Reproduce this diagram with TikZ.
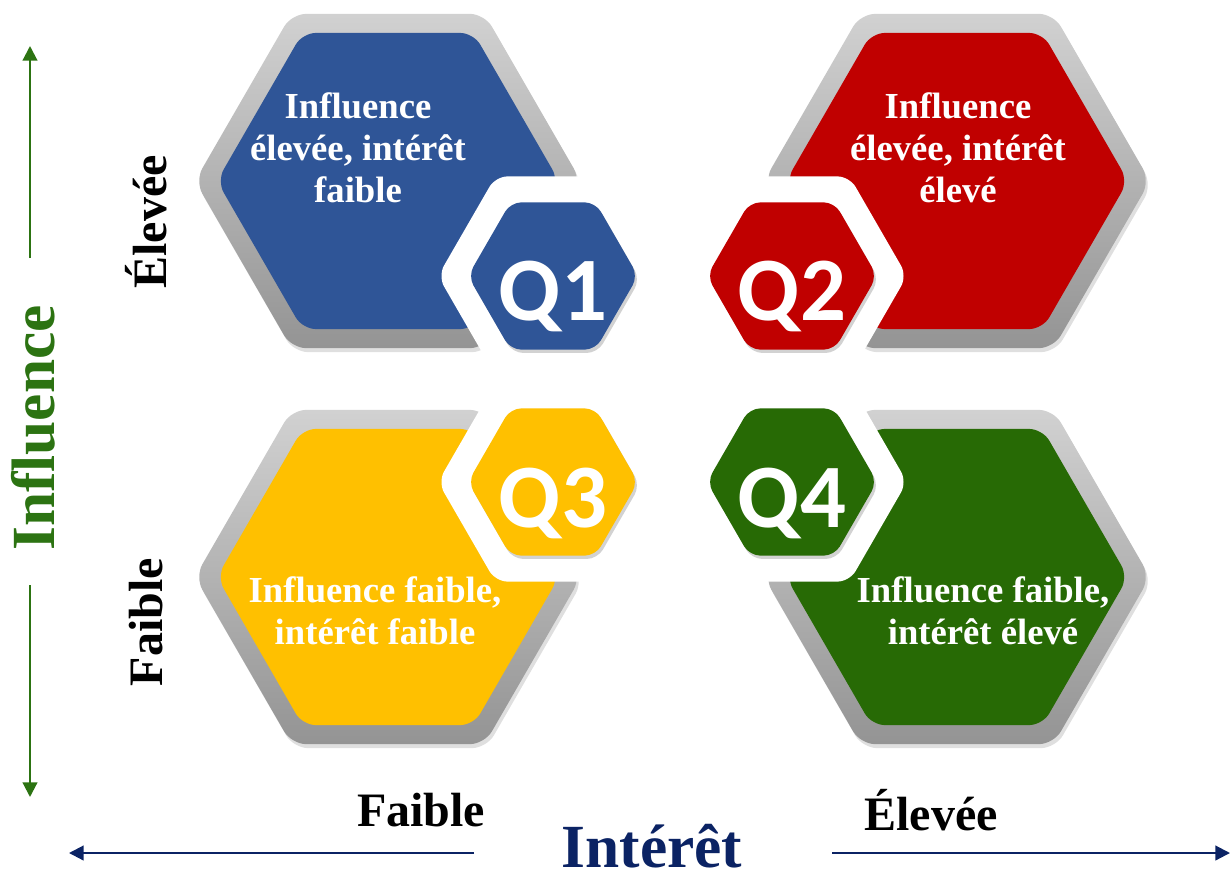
\documentclass[tikz,border=0pt]{standalone}
\usepackage{fontspec}
\setmainfont{Liberation Serif}
\newfontfamily\qfont{Carlito}
\usetikzlibrary{shadows,arrows.meta}
\definecolor{qblue}{HTML}{2F5597}
\definecolor{qred}{HTML}{C00000}
\definecolor{qyellow}{HTML}{FFC000}
\definecolor{qgreen}{HTML}{276A05}
\definecolor{axgreen}{HTML}{2C7312}
\definecolor{axnavy}{HTML}{0B2364}
\newcommand\hexat[3]{({#1+#3},{#2}) -- ({#1+#3/2},{#2+0.866*#3}) -- ({#1-#3/2},{#2+0.866*#3}) -- ({#1-#3},{#2}) -- ({#1-#3/2},{#2-0.866*#3}) -- ({#1+#3/2},{#2-0.866*#3}) -- cycle}
\tikzset{
  ring/.style={top color=black!18, bottom color=black!42, rounded corners=11pt,
    drop shadow={shadow xshift=1.5pt, shadow yshift=-3pt, opacity=0.25}},
  inner/.style={fill=#1, rounded corners=10pt},
  cut/.style={fill=white, rounded corners=9pt},
  smallhex/.style={fill=#1, rounded corners=8pt,
    drop shadow={shadow xshift=1.5pt, shadow yshift=-2.5pt, opacity=0.35}},
  qlabel/.style={text=white, font=\qfont\bfseries\fontsize{68}{68}\selectfont, anchor=base, inner sep=0pt},
  boxtext/.style={text=white, font=\bfseries\fontsize{27.5}{31.5}\selectfont, align=center, inner sep=0pt},
  axlabel/.style={text=black, font=\bfseries\fontsize{36}{40}\selectfont, inner sep=0pt},
  axtitle/.style={font=\bfseries\fontsize{46}{50}\selectfont, inner sep=0pt},
  axarrow/.style={line width=1.6pt, -{Triangle[length=11pt,width=11pt]}}
}
\begin{document}
\begin{tikzpicture}[x=0.75pt, y=-0.75pt]
\useasboundingbox (0,0) rectangle (1230,874);
% big hexagons
\path[ring] \hexat{388}{181}{193};
\path[ring] \hexat{957}{181}{193};
\path[ring] \hexat{388}{577}{193};
\path[ring] \hexat{957}{577}{193};
\path[inner=qblue] \hexat{388}{181}{171};
\path[inner=qred] \hexat{957}{181}{171};
\path[inner=qyellow] \hexat{388}{577}{171};
\path[inner=qgreen] \hexat{957}{577}{171};
% notches
\path[cut] \hexat{553}{276}{115};
\path[cut] \hexat{792}{276}{115};
\path[cut] \hexat{553}{482}{115};
\path[cut] \hexat{792}{482}{115};
% small hexagons
\path[smallhex=qblue] \hexat{553}{276}{85};
\path[smallhex=qred] \hexat{792}{276}{85};
\path[smallhex=qyellow] \hexat{553}{482}{85};
\path[smallhex=qgreen] \hexat{792}{482}{85};
\node[qlabel] (q1) at (553,320) {Q1};
\node[qlabel] (q2) at (792,320) {Q2};
\node[qlabel] (q3) at (553,527) {Q3};
\node[qlabel] (q4) at (792,527) {Q4};
% box texts
\node[boxtext] (t1) at (358,148) {Influence\\élevée, intérêt\\faible};
\node[boxtext] (t2) at (958,148) {Influence\\élevée, intérêt\\élevé};
\node[boxtext] (t3) at (375,611) {Influence faible,\\intérêt faible};
\node[boxtext] (t4) at (983,611) {Influence faible,\\intérêt élevé};
% axis labels
\node[axlabel, rotate=90] (yhigh) at (146,222) {Élevée};
\node[axlabel, rotate=90] (ylow) at (146,622) {Faible};
\node[axlabel] (xlow) at (421,810) {Faible};
\node[axlabel] (xhigh) at (931,810) {Élevée};
\node[axtitle, text=axgreen, rotate=90] (ytitle) at (33,428) {Influence};
\node[axtitle, text=axnavy, anchor=base] (xtitle) at (652,867) {Intérêt};
% arrows
\coordinate (yup0) at (30,258);
\coordinate (yup1) at (30,46);
\coordinate (ydn0) at (30,585);
\coordinate (ydn1) at (30,797);
\coordinate (xl0) at (474,853);
\coordinate (xl1) at (69,853);
\coordinate (xr0) at (832,853);
\coordinate (xr1) at (1230,853);
\draw[axarrow, axgreen] (yup0) -- (yup1);
\draw[axarrow, axgreen] (ydn0) -- (ydn1);
\draw[axarrow, axnavy] (xl0) -- (xl1);
\draw[axarrow, axnavy] (xr0) -- (xr1);
\end{tikzpicture}
\end{document}
